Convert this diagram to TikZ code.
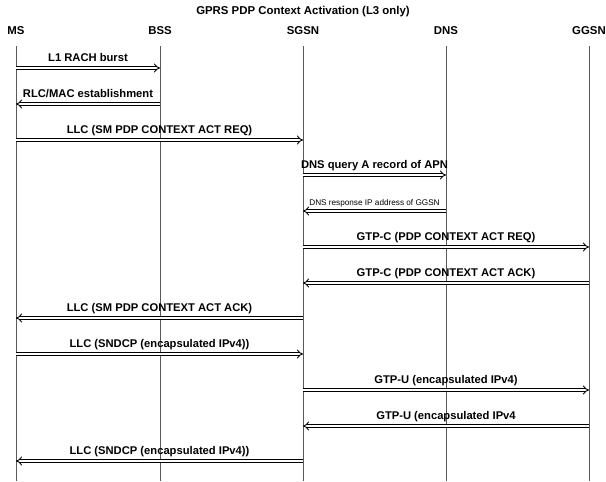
\documentclass[tikz,border=0pt]{standalone}
\usepackage{fontspec}
\setmainfont{Liberation Sans}
\usetikzlibrary{arrows.meta}
\tikzset{
  lifeline/.style={draw=black!65, line width=0.6pt},
  entity/.style={font=\fontsize{11.4}{13}\selectfont\bfseries, inner sep=0pt, anchor=base},
  msg/.style={double, double distance=2.1pt, line width=0.9pt, -{Implies}},
  msglabel/.style={font=\fontsize{11.2}{13}\selectfont\bfseries, anchor=base, inner sep=0pt, yshift=7pt},
  smalllabel/.style={font=\fontsize{8.2}{9}\selectfont, anchor=base, inner sep=0pt, yshift=6pt}
}
\begin{document}
\begin{tikzpicture}[x=1pt, y=-1pt]
  \useasboundingbox (0,0) rectangle (606,482);
  \node[entity] (title) at (303,14) {GPRS PDP Context Activation (L3 only)};
  % entities
  \node[entity] (ms) at (16,34) {MS};
  \node[entity] (bss) at (160,34) {BSS};
  \node[entity] (sgsn) at (303,34) {SGSN};
  \node[entity] (dns) at (446,34) {DNS};
  \node[entity] (ggsn) at (589,34) {GGSN};
  % lifelines
  \draw[lifeline] (ms |- 0,46) -- (ms |- 0,481);
  \draw[lifeline] (bss |- 0,46) -- (bss |- 0,481);
  \draw[lifeline] (sgsn |- 0,46) -- (sgsn |- 0,481);
  \draw[lifeline] (dns |- 0,46) -- (dns |- 0,481);
  \draw[lifeline] (ggsn |- 0,46) -- (ggsn |- 0,481);
  % messages
  \draw[msg] (ms |- 0,68) -- node[msglabel] {L1 RACH burst} (bss |- 0,68);
  \draw[msg] (bss |- 0,104) -- node[msglabel] {RLC/MAC establishment} (ms |- 0,104);
  \draw[msg] (ms |- 0,140) -- node[msglabel] {LLC (SM PDP CONTEXT ACT REQ)} (sgsn |- 0,140);
  \draw[msg] (sgsn |- 0,175) -- node[msglabel] {DNS query A record of APN} (dns |- 0,175);
  \draw[msg] (dns |- 0,211) -- node[smalllabel] {DNS response IP address of GGSN} (sgsn |- 0,211);
  \draw[msg] (sgsn |- 0,247) -- node[msglabel] {GTP-C (PDP CONTEXT ACT REQ)} (ggsn |- 0,247);
  \draw[msg] (ggsn |- 0,283) -- node[msglabel] {GTP-C (PDP CONTEXT ACT ACK)} (sgsn |- 0,283);
  \draw[msg] (sgsn |- 0,318) -- node[msglabel] {LLC (SM PDP CONTEXT ACT ACK)} (ms |- 0,318);
  \draw[msg] (ms |- 0,354) -- node[msglabel] {LLC (SNDCP (encapsulated IPv4))} (sgsn |- 0,354);
  \draw[msg] (sgsn |- 0,390) -- node[msglabel] {GTP-U (encapsulated IPv4)} (ggsn |- 0,390);
  \draw[msg] (ggsn |- 0,426) -- node[msglabel] {GTP-U (encapsulated IPv4} (sgsn |- 0,426);
  \draw[msg] (sgsn |- 0,461) -- node[msglabel] {LLC (SNDCP (encapsulated IPv4))} (ms |- 0,461);
\end{tikzpicture}
\end{document}
